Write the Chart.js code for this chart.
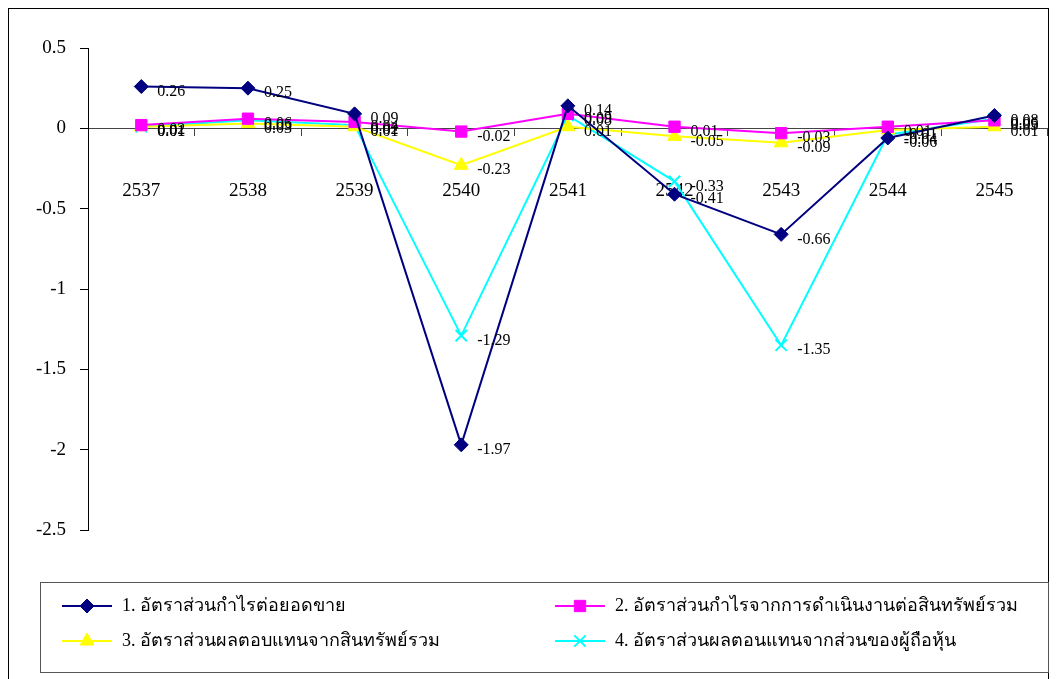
<!DOCTYPE html>
<html>
<head>
<meta charset="utf-8">
<script src="https://cdn.jsdelivr.net/npm/chart.js@4/dist/chart.umd.min.js"></script>
<style>
  html, body { margin: 0; padding: 0; background: #fff; }
  #wrap { width: 1058px; height: 679px; position: relative; }
</style>
</head>
<body>
<div id="wrap"><canvas id="ratios" width="1058" height="679"></canvas></div>
<script>
(function () {
    "use strict";

    // Years (B.E.)
    const years = ["2537", "2538", "2539", "2540", "2541", "2542", "2543", "2544", "2545"];

    const netProfitMargin = [0.26, 0.25, 0.09, -1.97, 0.14, -0.41, -0.66, -0.06, 0.08];
    const operatingReturnOnAssets = [0.02, 0.06, 0.04, -0.02, 0.09, 0.01, -0.03, 0.01, 0.05];
    const returnOnAssets = [0.01, 0.03, 0.01, -0.23, 0.01, -0.05, -0.09, -0.01, 0.01];
    const returnOnEquity = [0.01, 0.05, 0.02, -1.29, 0.08, -0.33, -1.35, -0.04, 0.06];

    const seriesNames = [
        "1. อัตราส่วนกำไรต่อยอดขาย",
        "2. อัตราส่วนกำไรจากการดำเนินงานต่อสินทรัพย์รวม",
        "3. อัตราส่วนผลตอบแทนจากสินทรัพย์รวม",
        "4. อัตราส่วนผลตอนแทนจากส่วนของผู้ถือหุ้น",
    ];

    const yTicks = { min: -2.5, max: 0.5, step: 0.5 };

    const serif = "'Liberation Serif', 'DejaVu Serif', 'Times New Roman', serif";

    // Value labels to the right of each point
    const pointLabels = {
        id: "pointLabels",
        afterDatasetsDraw(chart) {
            const ctx = chart.ctx;
            ctx.save();
            ctx.font = "16px " + serif;
            ctx.fillStyle = "#000";
            ctx.textAlign = "left";
            ctx.textBaseline = "middle";
            chart.data.datasets.forEach((ds, i) => {
                chart.getDatasetMeta(i).data.forEach((pt, j) => {
                    ctx.fillText(ds.data[j].toFixed(2), pt.x + 16, pt.y + 5);
                });
            });
            ctx.restore();
        },
    };

    // Outer frame and boxed two-column legend
    const frameAndLegend = {
        id: "frameAndLegend",
        afterDraw(chart) {
            const ctx = chart.ctx;
            ctx.save();
            ctx.strokeStyle = "#000";
            ctx.lineWidth = 1;
            ctx.strokeRect(8.5, 8.5, 1040, 720);

            ctx.strokeStyle = "#555";
            ctx.strokeRect(40.5, 582.5, 1008, 90);

            const slots = [
                { x: 62, y: 606 },
                { x: 555, y: 606 },
                { x: 62, y: 641 },
                { x: 555, y: 641 },
            ];
            ctx.font = "18px " + serif;
            ctx.textBaseline = "middle";
            chart.data.datasets.forEach((ds, i) => {
                const s = slots[i];
                ctx.strokeStyle = ds.borderColor;
                ctx.fillStyle = ds.borderColor;
                ctx.lineWidth = 2;
                ctx.beginPath();
                ctx.moveTo(s.x, s.y);
                ctx.lineTo(s.x + 50, s.y);
                ctx.stroke();
                ctx.lineWidth = ds.pointBorderWidth;
                Chart.helpers.drawPoint(ctx, {
                    pointStyle: ds.pointStyle,
                    radius: ds.pointRadius,
                    borderWidth: ds.pointBorderWidth,
                    rotation: 0,
                }, s.x + 25, s.y);
                ctx.fillStyle = "#000";
                ctx.fillText(ds.label, s.x + 60, s.y);
            });
            ctx.restore();
        },
    };

    function series(label, data, color, style, radius) {
        return {
            label: label,
            data: data,
            borderColor: color,
            backgroundColor: color,
            pointBackgroundColor: color,
            pointBorderColor: color,
            borderWidth: 2,
            pointStyle: style,
            pointRadius: radius,
            pointHoverRadius: radius,
            pointBorderWidth: style === "crossRot" ? 2 : 1,
            tension: 0,
        };
    }

    const ctx = document.getElementById("ratios").getContext("2d");
    new Chart(ctx, {
        type: "line",
        data: {
            labels: years,
            datasets: [
                series(seriesNames[0], netProfitMargin, "#000080", "rectRot", 7),
                series(seriesNames[1], operatingReturnOnAssets, "#FF00FF", "rect", 8),
                series(seriesNames[2], returnOnAssets, "#FFFF00", "triangle", 8),
                series(seriesNames[3], returnOnEquity, "#00FFFF", "crossRot", 8),
            ],
        },
        options: {
            responsive: false,
            animation: false,
            layout: {
                padding: { left: 8, right: 10, top: 48, bottom: 149 },
            },
            plugins: {
                legend: { display: false },
                tooltip: { enabled: false },
            },
            scales: {
                x: {
                    type: "category",
                    position: { y: 0 },
                    offset: true,
                    grid: {
                        offset: true,
                        drawOnChartArea: false,
                        drawTicks: true,
                        tickLength: 7,
                        color: "#444",
                    },
                    border: { display: true, color: "#444", width: 1 },
                    ticks: {
                        color: "#000",
                        font: { family: serif, size: 19 },
                        padding: 44,
                        maxRotation: 0,
                    },
                },
                y: {
                    min: yTicks.min,
                    max: yTicks.max,
                    afterFit(scale) {
                        scale.width = 80;
                    },
                    grid: {
                        drawOnChartArea: false,
                        drawTicks: true,
                        tickLength: 8,
                        color: "#000",
                    },
                    border: { display: true, color: "#000", width: 1 },
                    ticks: {
                        stepSize: yTicks.step,
                        color: "#000",
                        font: { family: serif, size: 19 },
                        padding: 14,
                        callback: (v) => String(Number(v.toFixed(1))),
                    },
                },
            },
        },
        plugins: [pointLabels, frameAndLegend],
    });
})();
</script>
</body>
</html>
